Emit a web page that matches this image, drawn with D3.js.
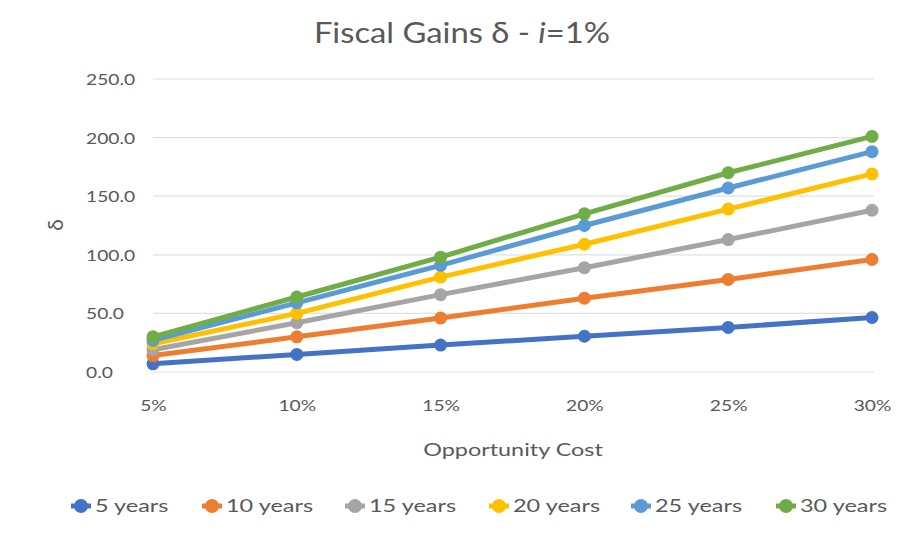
<!DOCTYPE html>
<html>
<head>
<meta charset="utf-8">
<script src="https://cdn.jsdelivr.net/npm/d3@7"></script>
<style>
  html, body { margin: 0; padding: 0; background: #fff; }
  svg { display: block; font-family: Lato, "Open Sans", sans-serif; }
</style>
</head>
<body>
<svg id="chart" width="907" height="539"></svg>
<script>
// Opportunity-cost categories on the x axis
const categories = ["5%", "10%", "15%", "20%", "25%", "30%"];

// Series names (investment horizon)
const seriesNames = ["5 years", "10 years", "15 years", "20 years", "25 years", "30 years"];

// Fiscal gains δ for each horizon, one value per opportunity cost
const years5  = [7, 15, 23, 30.5, 38, 46.5];
const years10 = [14, 30, 46, 63, 79, 96];
const years15 = [19, 42, 66, 89, 113, 138];
const years20 = [24, 50, 81, 109, 139, 169];
const years25 = [27, 59, 91, 125, 157, 188];
const years30 = [30, 64, 98, 135, 170, 201];

// Y-axis tick values
const yTicks = [0, 50, 100, 150, 200, 250];

const seriesValues = [years5, years10, years15, years20, years25, years30];
const colors = ["#4472C4", "#ED7D31", "#A5A5A5", "#FFC000", "#5B9BD5", "#70AD47"];

const svg = d3.select("#chart");
const textColor = "#595959";

// Widen a text element horizontally by factor k (the typeface is set a bit wide)
function widen(sel, k) {
  sel.each(function () {
    const w = this.getComputedTextLength();
    d3.select(this).attr("textLength", w * k).attr("lengthAdjust", "spacingAndGlyphs");
  });
}

const x = d3.scalePoint().domain(categories).range([153, 872]);
const y = d3.scaleLinear().domain([0, 250]).range([372, 79]);

// Horizontal gridlines
svg.append("g")
  .selectAll("line")
  .data(yTicks)
  .join("line")
  .attr("x1", 153).attr("x2", 874)
  .attr("y1", d => y(d)).attr("y2", d => y(d))
  .attr("stroke", "#e0e0e0").attr("stroke-width", 1.2);

// Y axis labels (left-aligned column)
const yLab = svg.append("g")
  .selectAll("text")
  .data(yTicks)
  .join("text")
  .attr("x", 86)
  .attr("y", d => y(d) + 6)
  .attr("fill", textColor).attr("font-size", 16)
  .text(d => d3.format(".1f")(d));
widen(yLab, 1.2);

// X axis labels
const xAxis = d3.axisBottom(x).tickSize(0).tickPadding(0);
const xLab = svg.append("g")
  .attr("transform", "translate(0,400)")
  .call(xAxis)
  .call(g => g.select(".domain").remove())
  .selectAll("text")
  .attr("fill", textColor).attr("font-size", 16).attr("font-family", "Lato, sans-serif");
widen(xLab, 1.2);

// Title
const title = svg.append("text")
  .attr("x", 462).attr("y", 43)
  .attr("text-anchor", "middle")
  .attr("fill", textColor)
  .attr("font-size", 28);
title.append("tspan").text("Fiscal Gains δ - ");
title.append("tspan").attr("font-style", "italic").text("i");
title.append("tspan").text("=1%");
widen(title, 1.17);

// Axis titles
svg.append("text")
  .attr("transform", "translate(63,225) rotate(-90)")
  .attr("text-anchor", "middle")
  .attr("fill", textColor).attr("font-size", 21)
  .text("δ");

const xTitle = svg.append("text")
  .attr("x", 513).attr("y", 456)
  .attr("text-anchor", "middle")
  .attr("fill", textColor).attr("font-size", 18)
  .text("Opportunity Cost");
widen(xTitle, 1.3);

// Lines and markers
const line = d3.line().x((d, i) => x(categories[i])).y(d => y(d));

seriesValues.forEach((vals, s) => {
  const g = svg.append("g");
  g.append("path")
    .datum(vals)
    .attr("d", line)
    .attr("fill", "none")
    .attr("stroke", colors[s])
    .attr("stroke-width", 5)
    .attr("stroke-linejoin", "round")
    .attr("stroke-linecap", "round");
  g.selectAll("circle")
    .data(vals)
    .join("circle")
    .attr("cx", (d, i) => x(categories[i]))
    .attr("cy", d => y(d))
    .attr("r", 6.5)
    .attr("fill", colors[s]);
});

// Legend
const legendX = [81, 212, 355, 499, 641, 786];
const legend = svg.append("g");
seriesNames.forEach((name, s) => {
  const lx = legendX[s];
  legend.append("line")
    .attr("x1", lx - 10).attr("x2", lx + 10)
    .attr("y1", 506).attr("y2", 506)
    .attr("stroke", colors[s]).attr("stroke-width", 5);
  legend.append("circle")
    .attr("cx", lx).attr("cy", 506).attr("r", 7)
    .attr("fill", colors[s]);
  const t = legend.append("text")
    .attr("x", lx + 14).attr("y", 512)
    .attr("fill", textColor).attr("font-size", 17)
    .text(name);
  widen(t, 1.38);
});
</script>
</body>
</html>
